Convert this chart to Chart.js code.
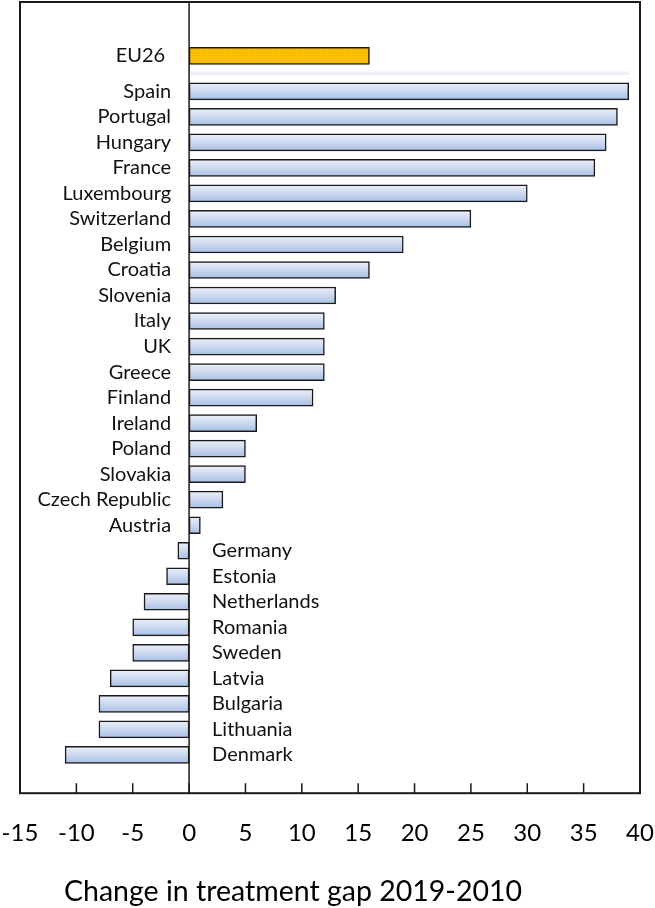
<!DOCTYPE html>
<html>
<head>
<meta charset="utf-8">
<script src="https://cdn.jsdelivr.net/npm/chart.js@4.4.0/dist/chart.umd.min.js"></script>
<style>
  html, body { margin: 0; padding: 0; background: #fff; }
  #wrap { width: 655px; height: 908px; position: relative; }
</style>
</head>
<body>
<div id="wrap"><canvas id="gapChart"></canvas></div>
<script>
const countries = ['Spain', 'Portugal', 'Hungary', 'France', 'Luxembourg', 'Switzerland', 'Belgium',
    'Croatia', 'Slovenia', 'Italy', 'UK', 'Greece', 'Finland', 'Ireland', 'Poland', 'Slovakia',
    'Czech Republic', 'Austria', 'Germany', 'Estonia', 'Netherlands', 'Romania', 'Sweden',
    'Latvia', 'Bulgaria', 'Lithuania', 'Denmark'];
const gapChange = [39, 38, 37, 36, 30, 25, 19, 16, 13, 12, 12, 12, 11, 6, 5, 5, 3, 1,
    -1, -2, -4, -5, -5, -7, -8, -8, -11];
const euLabel = 'EU26';
const euValue = 16;
const separatorValue = 39;   // the faint bar between EU26 and the countries
const xMin = -15, xMax = 40, xStep = 5;
const axisTitle = 'Change in treatment gap 2019-2010';

// main axis rows: two empty top rows (EU26 area), separator, countries, empty bottom row
const rowLabels = ['', '', '', ...countries, ''];
const rowValues = [null, null, separatorValue, ...gapChange, null];
const sepIndex = 2;
// EU26 sits on its own finer axis so it lands between the regular rows
const euRows = ['', euLabel, ...Array(20).fill('')];
const euValues = [null, euValue, ...Array(20).fill(null)];

const FONT = 'Lato, "Open Sans", sans-serif';

// small dotted fill for the EU26 bar
function dotPattern() {
    const c = document.createElement('canvas');
    c.width = 3; c.height = 3;
    const g = c.getContext('2d');
    g.fillStyle = '#ffc000';
    g.fillRect(0, 0, 3, 3);
    g.fillStyle = '#e9ac00';
    g.fillRect(1, 1, 1, 1);
    return g.createPattern(c, 'repeat');
}

function countryFill(ctx) {
    const chart = ctx.chart;
    const i = ctx.dataIndex;
    if (!chart.chartArea || i === undefined) return '#c5d4ee';
    const yc = chart.scales.y.getPixelForValue(i);
    const g = chart.ctx.createLinearGradient(0, yc - 9, 0, yc + 9);
    if (i === sepIndex) {
        g.addColorStop(0, 'rgba(255,255,255,0)');
        g.addColorStop(0.68, 'rgba(255,255,255,0)');
        g.addColorStop(0.85, '#f1f3fc');
        g.addColorStop(1, '#e3e8f8');
    } else {
        g.addColorStop(0, '#eef2fa');
        g.addColorStop(0.5, '#cbd8ef');
        g.addColorStop(1, '#a6bde2');
    }
    return g;
}

const framePlugin = {
    id: 'frame',
    afterDatasetsDraw(chart) {
        const { ctx, chartArea: a, scales: { x } } = chart;
        ctx.save();
        ctx.strokeStyle = '#1a1a1a';
        // zero line
        ctx.lineWidth = 1.5;
        const x0 = x.getPixelForValue(0);
        ctx.beginPath();
        ctx.moveTo(x0, a.top);
        ctx.lineTo(x0, a.bottom);
        ctx.stroke();
        // inward tick marks
        for (let v = xMin + xStep; v < xMax; v += xStep) {
            const px = x.getPixelForValue(v);
            ctx.beginPath();
            ctx.moveTo(px, a.bottom);
            ctx.lineTo(px, a.bottom - 10);
            ctx.stroke();
        }
        ctx.lineWidth = 2;
        ctx.strokeRect(a.left, a.top, a.right - a.left, a.bottom - a.top);
        ctx.restore();
    }
};

const labelPlugin = {
    id: 'barLabels',
    afterDraw(chart) {
        const { ctx, scales: { x } } = chart;
        const x0 = x.getPixelForValue(0);
        ctx.save();
        ctx.font = '20px ' + FONT;
        ctx.fillStyle = '#111';
        ctx.textBaseline = 'middle';
        chart.data.datasets.forEach((ds, di) => {
            const meta = chart.getDatasetMeta(di);
            const labels = di === 0 ? rowLabels : euRows;
            meta.data.forEach((bar, i) => {
                const v = ds.data[i];
                if (v === null || !labels[i]) return;
                if (v >= 0) {
                    ctx.textAlign = 'right';
                    ctx.fillText(labels[i], x0 - (di === 0 ? 18 : 24), bar.y);
                } else {
                    ctx.textAlign = 'left';
                    ctx.fillText(labels[i], x0 + 23, bar.y);
                }
            });
        });
        // axis title
        ctx.font = '28.5px ' + FONT;
        ctx.textAlign = 'center';
        ctx.fillStyle = '#000';
        ctx.fillText(axisTitle, 293, 892);
        ctx.restore();
    }
};

const ctx = document.getElementById('gapChart').getContext('2d');
new Chart(ctx, {
    type: 'bar',
    data: {
        labels: rowLabels,
        datasets: [{
            label: 'Change in treatment gap',
            data: rowValues,
            yAxisID: 'y',
            order: 1,
            backgroundColor: countryFill,
            borderColor: '#1a1a1a',
            borderWidth: c => (c.dataIndex === sepIndex ? 0 : 1.5),
            borderSkipped: false,
            barThickness: 17,
            grouped: false
        }, {
            label: euLabel,
            data: euValues,
            yAxisID: 'yEU',
            order: 0,
            backgroundColor: dotPattern(),
            borderColor: '#1a1a1a',
            borderWidth: 1.5,
            borderSkipped: false,
            barThickness: 17,
            grouped: false
        }]
    },
    options: {
        indexAxis: 'y',
        responsive: true,
        maintainAspectRatio: false,
        animation: false,
        layout: { padding: { top: 2, left: 20, right: 15, bottom: 34 } },
        plugins: {
            legend: { display: false },
            tooltip: { enabled: false }
        },
        scales: {
            x: {
                min: xMin,
                max: xMax,
                grid: { display: false, drawTicks: false },
                border: { display: false },
                ticks: {
                    stepSize: xStep,
                    padding: 26,
                    color: '#000',
                    font: { family: FONT, size: 24 }
                },
                afterFit(scale) {
                    // keep the plot edges fixed instead of making room for end labels
                    scale.paddingLeft = 0;
                    scale.paddingRight = 0;
                }
            },
            y: { type: 'category', labels: rowLabels, min: 0, max: rowLabels.length - 1, display: false },
            yEU: { type: 'category', labels: euRows, min: 0, max: euRows.length - 1, display: false }
        }
    },
    plugins: [framePlugin, labelPlugin]
});
</script>
</body>
</html>
